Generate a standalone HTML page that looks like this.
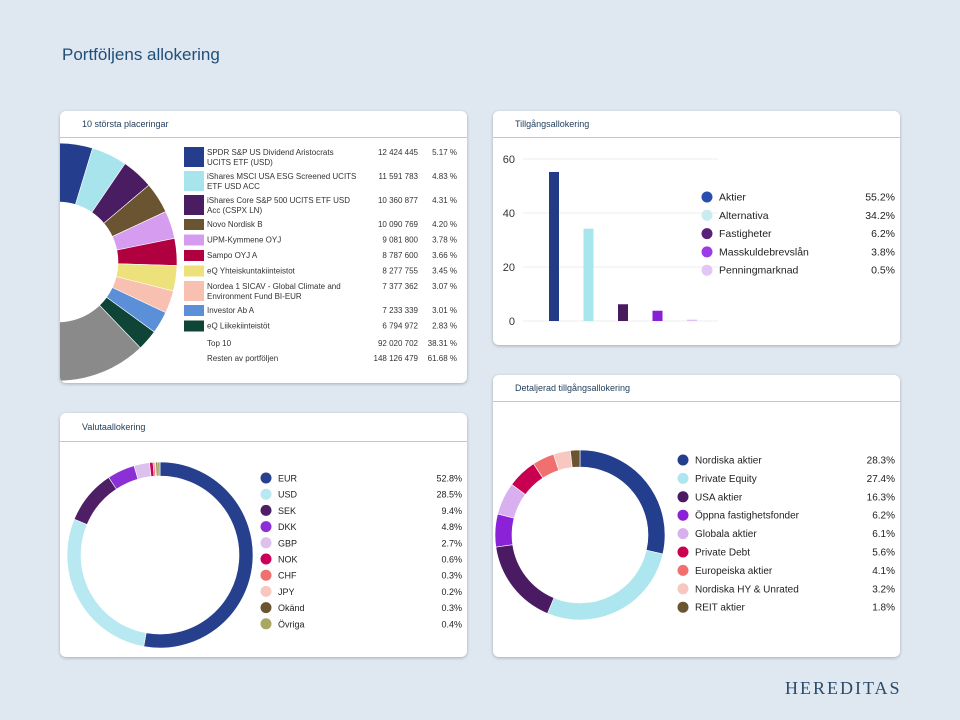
<!DOCTYPE html>
<html><head><meta charset="utf-8">
<style>
body{margin:0;width:960px;height:720px;background:#dfe8f0;font-family:"Liberation Sans",sans-serif;position:relative;overflow:hidden}
.title{position:absolute;left:62px;top:45px;font-size:17px;color:#1f4e79}
.card{position:absolute;background:#fff;border-radius:6px;box-shadow:0 1px 3px rgba(0,0,0,.25);overflow:hidden}
.card .hd{position:absolute;left:0;right:0;top:0;height:27px;border-bottom:1px solid #bfc8d0;font-size:9px;color:#1f3b5a;padding-left:22px;line-height:27px;box-sizing:border-box}
.logo{position:absolute;left:785px;top:678px;font-family:"Liberation Serif",serif;font-size:18px;letter-spacing:2px;color:#2a4a6a}
svg text{font-family:"Liberation Sans",sans-serif}
</style></head><body>
<div class="title">Portföljens allokering</div>

<div class="card" style="left:60px;top:111px;width:407px;height:272px">
<div class="hd">10 största placeringar</div>
<svg id="s1" width="407" height="272" style="position:absolute;left:0;top:0"></svg>
</div>
<div class="card" style="left:493px;top:111px;width:407px;height:234px">
<div class="hd">Tillgångsallokering</div>
<svg id="s2" width="407" height="234" style="position:absolute;left:0;top:0"></svg>
</div>
<div class="card" style="left:60px;top:413px;width:407px;height:244px">
<div class="hd" style="height:29px;line-height:29px">Valutaallokering</div>
<svg id="s3" width="407" height="244" style="position:absolute;left:0;top:0"></svg>
</div>
<div class="card" style="left:493px;top:375px;width:407px;height:282px">
<div class="hd">Detaljerad tillgångsallokering</div>
<svg id="s4" width="407" height="282" style="position:absolute;left:0;top:0"></svg>
</div>
<div class="logo">HEREDITAS</div>

<script>
const NS="http://www.w3.org/2000/svg";
// Top 10 data
const topNames=[["SPDR S&P US Dividend Aristocrats","UCITS ETF (USD)"],["iShares MSCI USA ESG Screened UCITS","ETF USD ACC"],["iShares Core S&P 500 UCITS ETF USD","Acc (CSPX LN)"],["Novo Nordisk B"],["UPM-Kymmene OYJ"],["Sampo OYJ A"],["eQ Yhteiskuntakiinteistot"],["Nordea 1 SICAV - Global Climate and","Environment Fund BI-EUR"],["Investor Ab A"],["eQ Liikekiinteistöt"]];
const topAmounts=["12 424 445","11 591 783","10 360 877","10 090 769","9 081 800","8 787 600","8 277 755","7 377 362","7 233 339","6 794 972"];
const topPct=[5.17,4.83,4.31,4.20,3.78,3.66,3.45,3.07,3.01,2.83];
const topColors=["#243d8c","#a8e4ec","#4a1d62","#6b5432","#d59cf0","#b0003f","#ece17a","#f8c0b0","#5b90d8","#0f4536"];
const restPct=61.68;
// Asset allocation
const assetCats=["Aktier","Alternativa","Fastigheter","Masskuldebrevslån","Penningmarknad"];
const assetVals=[55.2,34.2,6.2,3.8,0.5];
const assetColors=["#233a86","#a8e6ee","#4a1a5e","#8a1fd8","#e0c0f4"];
const assetLegendColors=["#2a4db0","#c8ecf0","#5a1f78","#9b3ce8","#e3c6f6"];
const assetTicks=[0,20,40,60];
// Currency
const curCats=["EUR","USD","SEK","DKK","GBP","NOK","CHF","JPY","Okänd","Övriga"];
const curVals=[52.8,28.5,9.4,4.8,2.7,0.6,0.3,0.2,0.3,0.4];
const curColors=["#26408e","#b8e8f2","#4e1e66","#8b2fd6","#dcc0ee","#c8005a","#f07070","#f8c8c0","#6b5530","#a8a860"];
// Detail
const detCats=["Nordiska aktier","Private Equity","USA aktier","Öppna fastighetsfonder","Globala aktier","Private Debt","Europeiska aktier","Nordiska HY & Unrated","REIT aktier"];
const detVals=[28.3,27.4,16.3,6.2,6.1,5.6,4.1,3.2,1.8];
const detColors=["#243e8e","#ade6ee","#4a1a62","#8b22d8","#d8b0f0","#c8004f","#f07070","#f8c8c0","#6b5530"];

function el(p,t,a){const e=document.createElementNS(NS,t);for(const k in a)e.setAttribute(k,a[k]);p.appendChild(e);return e;}
function arc(cx,cy,r0,r1,a0,a1){const p=(r,a)=>[cx+r*Math.sin(a),cy-r*Math.cos(a)];const L=a1-a0>Math.PI?1:0;
const [x1,y1]=p(r1,a0),[x2,y2]=p(r1,a1),[x3,y3]=p(r0,a1),[x4,y4]=p(r0,a0);
return `M${x1},${y1}A${r1},${r1} 0 ${L} 1 ${x2},${y2}L${x3},${y3}A${r0},${r0} 0 ${L} 0 ${x4},${y4}Z`;}
function donut(svg,vals,cols,cx,cy,r0,r1,name,start){const tot=vals.reduce((a,b)=>a+b,0);let a=start||0;
vals.forEach((v,i)=>{const b=a+v/tot*2*Math.PI;const e=el(svg,"path",{d:arc(cx,cy,r0,r1,a,b),fill:cols[i],stroke:"#fff","stroke-width":0.6});

a=b;});}
function legend(svg,cats,vals,cols,cx,y0,dy,rx,fs,name){cats.forEach((c,i)=>{const y=y0+i*dy;
const d=el(svg,"circle",{cx:cx,cy:y,r:5.5,fill:cols[i]});


const t=el(svg,"text",{x:cx+12,y:y+3.5,"font-size":fs,fill:"#222"});t.textContent=c;


const v=el(svg,"text",{x:rx,y:y+3.5,"font-size":fs,fill:"#222","text-anchor":"end"});v.textContent=vals[i].toFixed(1)+"%";

});}

// Card 1
(function(){const s=document.getElementById("s1");
const vals=topPct.concat([restPct]);const cols=topColors.concat(["#8a8a8a"]);
donut(s,vals,cols,-2,151,60,119,"top10",-0.03);
let y=36;topNames.forEach((n,i)=>{const h=n.length>1?21:12;
const r=el(s,"rect",{x:124,y:y,width:20,height:h<15?11:20,fill:topColors[i]});


n.forEach((ln,j)=>{const t=el(s,"text",{x:147,y:y+8+j*10,"font-size":8,fill:"#333"});t.textContent=ln;

});
const a=el(s,"text",{x:358,y:y+8,"font-size":8,fill:"#333","text-anchor":"end"});a.textContent=topAmounts[i];


const p=el(s,"text",{x:397,y:y+8,"font-size":8,fill:"#333","text-anchor":"end"});p.textContent=topPct[i].toFixed(2)+" %";


y+=n.length>1?24:15.5;});
const sum=topPct.reduce((a,b)=>a+b,0);
[["Top 10","92 020 702",sum],["Resten av portföljen","148 126 479",restPct]].forEach((r,i)=>{const yy=235+i*15;
const a=el(s,"text",{x:147,y:yy,"font-size":8,fill:"#333"});a.textContent=r[0];


const b=el(s,"text",{x:358,y:yy,"font-size":8,fill:"#333","text-anchor":"end"});b.textContent=r[1];


const c=el(s,"text",{x:397,y:yy,"font-size":8,fill:"#333","text-anchor":"end"});c.textContent=r[2].toFixed(2)+" %";

});})();

// Card 2 bar chart
(function(){const s=document.getElementById("s2");
const y0=210,yTop=48,vmax=60;const Y=v=>y0-(y0-yTop)*v/vmax;const X=i=>61+i*34.5;
assetTicks.forEach(t=>{const l=el(s,"line",{x1:30,x2:225,y1:Y(t),y2:Y(t),stroke:"#eee","stroke-width":1});


const tx=el(s,"text",{x:22,y:Y(t)+4,"font-size":11,fill:"#333","text-anchor":"end"});tx.textContent=t;

});
assetVals.forEach((v,i)=>{const r=el(s,"rect",{x:X(i)-5,y:Y(v),width:10,height:y0-Y(v),fill:assetColors[i]});

});
legend(s,assetCats,assetVals,assetLegendColors,214,86,18.3,402,10.5,"asset");})();

// Card 3
(function(){const s=document.getElementById("s3");
donut(s,curVals,curColors,100,142,79,93,"currency",0);
legend(s,curCats,curVals,curColors,206,65,16.2,402,9,"currency");})();

// Card 4
(function(){const s=document.getElementById("s4");
donut(s,detVals,detColors,87,160,68,85,"detail",0);
legend(s,detCats,detVals,detColors,190,85,18.4,402,10,"detail");})();
</script>
</body></html>
